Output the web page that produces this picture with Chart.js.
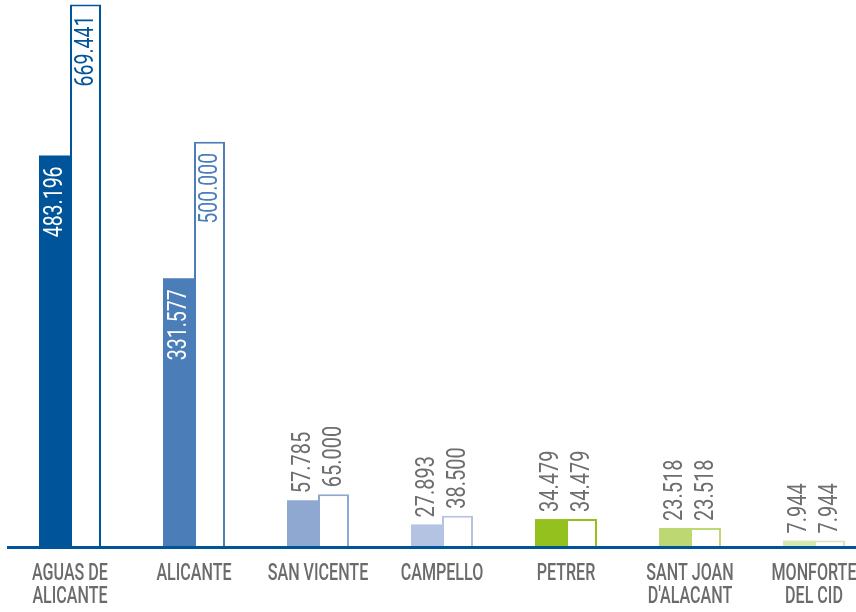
<!DOCTYPE html>
<html lang="es">
<head>
   <meta charset="UTF-8">
   <title>Comparativa municipios</title>
   <script src="https://cdn.jsdelivr.net/npm/chart.js"></script>
   <style>
      body {
         margin: 0;
         padding: 0;
         background: #fff;
         overflow: hidden;
      }
      .wrap {
         width: 880px;
         height: 612px;
      }
   </style>
</head>
<body>
   <div class="wrap">
      <canvas id="chart" width="880" height="612"></canvas>
   </div>

   <script>
      // Data
      const categories = [
         ['AGUAS DE', 'ALICANTE'],
         ['ALICANTE'],
         ['SAN VICENTE'],
         ['CAMPELLO'],
         ['PETRER'],
         ['SANT JOAN', "D'ALACANT"],
         ['MONFORTE', 'DEL CID']
      ];
      const filledValues = [483196, 331577, 57785, 27893, 34479, 23518, 7944];
      const outlineValues = [669441, 500000, 65000, 38500, 34479, 23518, 7944];
      const barColors = ['#00549a', '#4b7db8', '#8fa8d1', '#b5c3e2', '#95c11f', '#bdd773', '#d7e7b1'];

      // no condensed face installed, so Roboto is squeezed horizontally
      const fontFamily = "Roboto, 'Noto Sans', sans-serif";

      // 483196 -> "483.196"
      function fmt(v) {
         return v.toString().replace(/\B(?=(\d{3})+(?!\d))/g, '.');
      }

      // vertical value labels, inside the tall bars, above the short ones
      const valueLabels = {
         id: 'valueLabels',
         afterDatasetsDraw(chart) {
            const ctx = chart.ctx;
            chart.data.datasets.forEach((ds, di) => {
               const meta = chart.getDatasetMeta(di);
               meta.data.forEach((bar, i) => {
                  const v = ds.data[i];
                  const inside = v > 200000;
                  ctx.save();
                  ctx.font = '25px ' + fontFamily;
                  ctx.textBaseline = 'middle';
                  if (inside) {
                     ctx.translate(bar.x + 1, bar.y + 11);
                     ctx.rotate(-Math.PI / 2);
                     ctx.scale(0.78, 1);
                     ctx.textAlign = 'right';
                     ctx.fillStyle = di === 0 ? '#ffffff' : barColors[i];
                  } else {
                     ctx.translate(bar.x + 1, bar.y - 7);
                     ctx.rotate(-Math.PI / 2);
                     ctx.scale(0.8, 1);
                     ctx.textAlign = 'left';
                     ctx.fillStyle = '#6d6e70';
                  }
                  ctx.fillText(fmt(v), 0, 0);
                  ctx.restore();
               });
            });
         }
      };

      // category names under the axis, positioned by the x scale
      const categoryLabels = {
         id: 'categoryLabels',
         afterDraw(chart) {
            const ctx = chart.ctx;
            const xScale = chart.scales.x;
            const top = chart.chartArea.bottom;
            ctx.save();
            ctx.font = '500 23px ' + fontFamily;
            ctx.fillStyle = '#6b6b6b';
            ctx.textAlign = 'center';
            ctx.textBaseline = 'middle';
            chart.data.labels.forEach((lines, i) => {
               const x = xScale.getPixelForValue(i);
               lines.forEach((line, li) => {
                  ctx.save();
                  ctx.translate(x, top + 27 + li * 23);
                  ctx.scale(0.7, 1);
                  ctx.fillText(line, 0, 0);
                  ctx.restore();
               });
            });
            ctx.restore();
         }
      };

      new Chart(document.getElementById('chart'), {
         type: 'bar',
         data: {
            labels: categories,
            datasets: [{
               data: filledValues,
               backgroundColor: barColors,
               borderWidth: 0,
               categoryPercentage: 0.5,
               barPercentage: 1
            }, {
               data: outlineValues,
               backgroundColor: '#ffffff',
               borderColor: barColors,
               borderWidth: 2,
               borderSkipped: 'bottom',
               categoryPercentage: 0.5,
               barPercentage: 1
            }]
         },
         options: {
            responsive: false,
            devicePixelRatio: 1,
            animation: false,
            layout: { padding: { left: 8, right: 4, top: 0, bottom: 57 } },
            plugins: {
               legend: { display: false },
               tooltip: { enabled: false }
            },
            scales: {
               x: {
                  grid: { display: false },
                  border: { display: true, color: '#00549a', width: 3, z: 1 },
                  ticks: { display: false }
               },
               y: {
                  display: false,
                  min: 0,
                  max: 675000
               }
            }
         },
         plugins: [valueLabels, categoryLabels]
      });
   </script>
</body>
</html>
